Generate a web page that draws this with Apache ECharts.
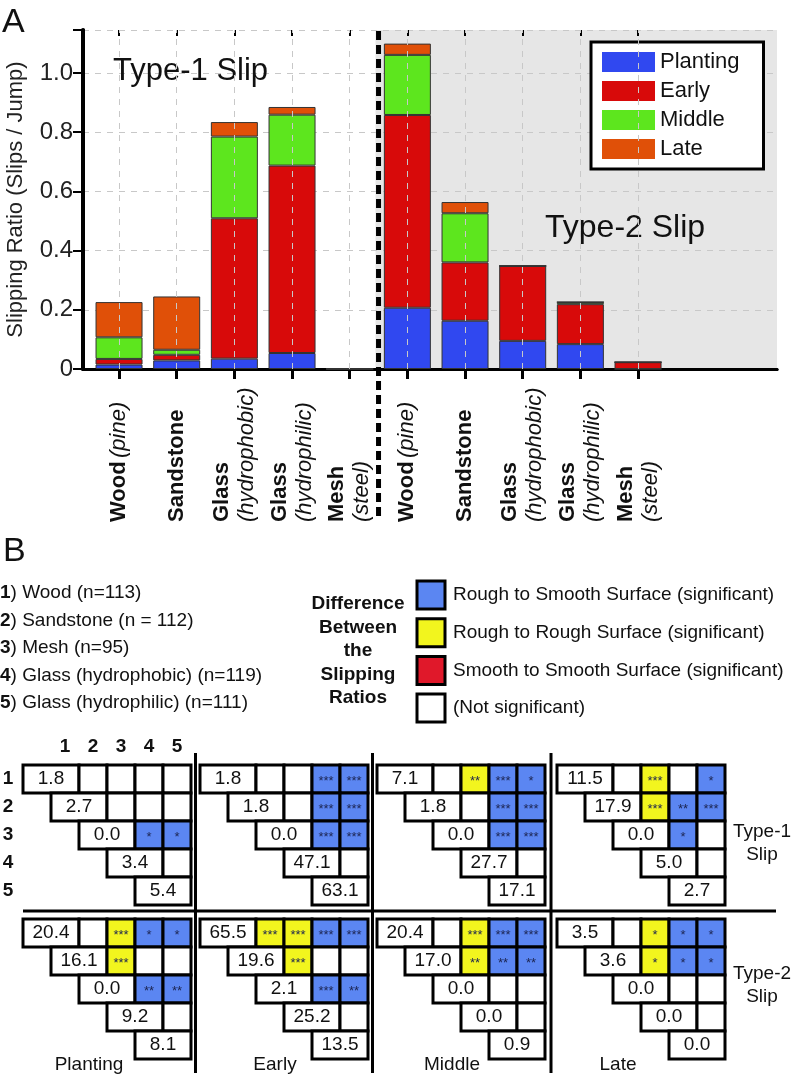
<!DOCTYPE html>
<html>
<head>
<meta charset="utf-8">
<script src="https://cdn.jsdelivr.net/npm/echarts@6/dist/echarts.min.js"></script>
<style>
  html, body { margin: 0; padding: 0; background: #fff; }
  #chart { width: 793px; height: 1079px; }
</style>
</head>
<body>
<div id="chart"></div>
<script>
const FONT = '"Liberation Sans", Arial, Helvetica, sans-serif';

// ---- Panel A: slipping ratio per surface (Type-1 slips, then Type-2 slips)
const surfaces = ['Wood (pine)', 'Sandstone', 'Glass\n(hydrophobic)', 'Glass\n(hydrophilic)', 'Mesh\n(steel)'];
const categories = surfaces.concat(surfaces);
const stageNames = ['Planting', 'Early', 'Middle', 'Late'];
const stageColors = ['#3048f0', '#d80a0a', '#5de61e', '#e05008'];
const planting = [0.015, 0.029, 0.035, 0.054, 0, 0.207, 0.163, 0.095, 0.084, 0];
const early = [0.019, 0.019, 0.474, 0.633, 0, 0.651, 0.197, 0.253, 0.135, 0.023];
const middle = [0.073, 0.017, 0.276, 0.172, 0, 0.203, 0.166, 0, 0.007, 0];
const late = [0.119, 0.180, 0.049, 0.026, 0.002, 0.038, 0.038, 0, 0, 0];
const yMax = 1.145;

// ---- Panel B: pairwise comparisons
const sampleNames = ['Wood (n=113)', 'Sandstone (n = 112)', 'Mesh (n=95)', 'Glass (hydrophobic) (n=119)', 'Glass (hydrophilic) (n=111)'];
const sigLabels = ['Rough to Smooth Surface (significant)', 'Rough to Rough Surface (significant)', 'Smooth to Smooth Surface (significant)', '(Not significant)'];
const sigColors = ['#5b86f2', '#f2f51e', '#e0182a', '#ffffff'];
const type1Diag = [
  [1.8, 2.7, 0.0, 3.4, 5.4],
  [1.8, 1.8, 0.0, 47.1, 63.1],
  [7.1, 1.8, 0.0, 27.7, 17.1],
  [11.5, 17.9, 0.0, 5.0, 2.7]
];
const type2Diag = [
  [20.4, 16.1, 0.0, 9.2, 8.1],
  [65.5, 19.6, 2.1, 25.2, 13.5],
  [20.4, 17.0, 0.0, 0.0, 0.9],
  [3.5, 3.6, 0.0, 0.0, 0.0]
];
// [sample a, sample b, class (0 rough-smooth, 1 rough-rough), stars]
const type1Sig = [
  [[3, 4, 0, '*'], [3, 5, 0, '*']],
  [[1, 4, 0, '***'], [1, 5, 0, '***'], [2, 4, 0, '***'], [2, 5, 0, '***'], [3, 4, 0, '***'], [3, 5, 0, '***']],
  [[1, 3, 1, '**'], [1, 4, 0, '***'], [1, 5, 0, '*'], [2, 4, 0, '***'], [2, 5, 0, '***'], [3, 4, 0, '***'], [3, 5, 0, '***']],
  [[1, 3, 1, '***'], [1, 5, 0, '*'], [2, 3, 1, '***'], [2, 4, 0, '**'], [2, 5, 0, '***'], [3, 4, 0, '*']]
];
const type2Sig = [
  [[1, 3, 1, '***'], [1, 4, 0, '*'], [1, 5, 0, '*'], [2, 3, 1, '***'], [3, 4, 0, '**'], [3, 5, 0, '**']],
  [[1, 2, 1, '***'], [1, 3, 1, '***'], [1, 4, 0, '***'], [1, 5, 0, '***'], [2, 3, 1, '***'], [3, 4, 0, '***'], [3, 5, 0, '**']],
  [[1, 3, 1, '***'], [1, 4, 0, '***'], [1, 5, 0, '***'], [2, 3, 1, '**'], [2, 4, 0, '**'], [2, 5, 0, '**']],
  [[1, 3, 1, '*'], [1, 4, 0, '*'], [1, 5, 0, '*'], [2, 3, 1, '*'], [2, 4, 0, '*'], [2, 5, 0, '*']]
];

const matrixLefts = [23, 200, 377, 557];
const matrixTops = [765, 919];

const matrixCells = (diag, sig) => {
  const cells = [];
  for (let i = 0; i < 5; i++) {
    cells.push({ col: i, row: i, span: 2, text: diag[i].toFixed(1), fill: '#fff', small: false });
    for (let j = i + 1; j < 5; j++) {
      const hit = sig.find(s => s[0] === i + 1 && s[1] === j + 1);
      cells.push({
        col: j + 1, row: i, span: 1,
        text: hit ? hit[3] : '',
        fill: hit ? sigColors[hit[2]] : '#fff',
        small: true
      });
    }
  }
  return cells;
};

const chart = echarts.init(document.getElementById('chart'));

const grids = [
  { left: 83, top: 30, width: 694, height: 339, outerBoundsMode: 'none' },   // frame
  { left: 90.2, top: 30, width: 692, height: 339, outerBoundsMode: 'none' }  // bars
];
const xAxes = [
  { type: 'value', gridIndex: 0, min: 0, max: 1, position: 'bottom',
    axisLine: { lineStyle: { color: '#000', width: 3 } }, axisTick: { show: false },
    axisLabel: { show: false }, splitLine: { show: false } },
  { type: 'value', gridIndex: 0, min: 0, max: 1, position: 'top',
    axisLine: { lineStyle: { color: '#000', width: 3 } }, axisTick: { show: false },
    axisLabel: { show: false }, splitLine: { show: false } },
  { type: 'category', gridIndex: 1, data: categories.concat(['', '']), position: 'bottom',
    axisLine: { show: false },
    axisTick: { show: true, alignWithLabel: true, length: 10, interval: (i, v) => v !== '',
      lineStyle: { color: '#000', width: 3 } },
    splitLine: { show: false },
    axisLabel: {
      interval: 0, rotate: 90, align: 'left', verticalAlign: 'middle', margin: 153,
      formatter: v => {
        if (!v) return '';
        const m = v.match(/^(\S+)([\s\n])?(.*)$/);
        if (!m[3]) return '{b|' + m[1] + '}';
        return '{b|' + m[1] + '}' + (m[2] === '\n' ? '\n' : ' ') + '{i|' + m[3] + '}';
      },
      rich: {
        b: { fontFamily: FONT, fontWeight: 'bold', fontSize: 22, color: '#111', lineHeight: 25 },
        i: { fontFamily: FONT, fontStyle: 'italic', fontSize: 22, color: '#111', lineHeight: 25 }
      }
    } },
  { type: 'category', gridIndex: 1, data: categories.concat(['', '']), position: 'top',
    axisLine: { show: false },
    axisTick: { show: true, inside: true, alignWithLabel: true, length: 6, interval: (i, v) => v !== '',
      lineStyle: { color: '#000', width: 2 } },
    axisLabel: { show: false }, splitLine: { show: false } }
];
const yAxes = [
  { type: 'value', gridIndex: 0, min: 0, max: yMax, interval: 0.2, position: 'left',
    name: 'Slipping Ratio (Slips / Jump)', nameLocation: 'middle', nameGap: 56,
    nameTextStyle: { fontFamily: FONT, fontSize: 22, color: '#222' },
    axisLine: { show: true, lineStyle: { color: '#000', width: 4 } }, axisTick: { show: false },
    axisLabel: { fontFamily: FONT, fontSize: 24, color: '#222', margin: 10, showMaxLabel: false,
      formatter: v => (v === 0 ? '0' : v.toFixed(1)) },
    splitLine: { show: true, lineStyle: { color: '#c8c8c8', width: 1, type: [6, 6] } } },
  { type: 'value', gridIndex: 0, min: 0, max: yMax, interval: 0.2, position: 'right',
    axisLine: { show: true, lineStyle: { color: '#000', width: 3 } },
    axisTick: { show: true, inside: true, length: 10, lineStyle: { color: '#000', width: 2 } },
    axisLabel: { show: false }, splitLine: { show: false } },
  { type: 'value', gridIndex: 1, min: 0, max: yMax, show: false }
];

const stageData = [planting, early, middle, late];
const series = stageNames.map((name, k) => ({
  name: name, type: 'bar', stack: 'slip', xAxisIndex: 2, yAxisIndex: 2,
  barWidth: 47, z: 3,
  itemStyle: { color: stageColors[k], borderColor: '#333', borderWidth: 1 },
  data: stageData[k]
}));

// vertical dashed grid lines at each surface, drawn under the bars
series.push({
  type: 'line', xAxisIndex: 2, yAxisIndex: 2, data: [], z: 1, silent: true,
  markLine: {
    silent: true, symbol: 'none', label: { show: false },
    lineStyle: { color: '#c8c8c8', width: 1, type: [6, 6] },
    data: categories.map((c, i) => ({ xAxis: i }))
  }
});

// matrices of panel B
const matrixList = [];
[type1Diag, type2Diag].forEach((diagSet, r) => {
  const sigSet = r === 0 ? type1Sig : type2Sig;
  diagSet.forEach((diag, c) => {
    const g = grids.length;
    grids.push({ left: matrixLefts[c], top: matrixTops[r], width: 168, height: 140, outerBoundsMode: 'none' });
    xAxes.push({ type: 'value', gridIndex: g, min: 0, max: 6, show: false });
    yAxes.push({ type: 'value', gridIndex: g, min: 0, max: 5, inverse: true, show: false });
    const cells = matrixCells(diag, sigSet[c]);
    matrixList.push(g);
    series.push({
      type: 'custom', xAxisIndex: xAxes.length - 1, yAxisIndex: yAxes.length - 1,
      clip: false, silent: true,
      data: cells.map(cell => [cell.col, cell.row, cell.span]),
      renderItem: (params, api) => {
        const cell = cells[params.dataIndex];
        const p0 = api.coord([api.value(0), api.value(1)]);
        const p1 = api.coord([api.value(0) + api.value(2), api.value(1) + 1]);
        return {
          type: 'group',
          children: [
            { type: 'rect', shape: { x: p0[0], y: p0[1], width: p1[0] - p0[0], height: p1[1] - p0[1] },
              style: { fill: cell.fill, stroke: '#000', lineWidth: 3 } },
            { type: 'text', style: {
                text: cell.text, x: (p0[0] + p1[0]) / 2, y: (p0[1] + p1[1]) / 2 + (cell.small ? 2 : 0),
                align: 'center', verticalAlign: 'middle',
                font: (cell.small ? '13px ' : '19px ') + FONT,
                fill: cell.small ? '#1c2450' : '#111' } }
          ]
        };
      }
    });
  });
});

chart.setOption({
  animation: false,
  backgroundColor: '#fff',
  textStyle: { fontFamily: FONT },
  grid: grids,
  xAxis: xAxes,
  yAxis: yAxes,
  legend: {
    data: stageNames, left: 591, top: 42, orient: 'vertical', selectedMode: false,
    icon: 'rect', itemWidth: 53, itemHeight: 20, itemGap: 7,
    padding: [9, 24, 9, 11], backgroundColor: '#fff', borderColor: '#000', borderWidth: 3,
    itemStyle: { borderWidth: 0 },
    textStyle: { fontFamily: FONT, fontSize: 22, color: '#111' }
  },
  series: series
});

// ---- annotations positioned through the axes
const px = (i) => chart.convertToPixel({ xAxisIndex: 2 }, i);
const split = (px(4) + px(5)) / 2;
const gfx = [];
const text = (x, y, str, font, extra) => gfx.push(Object.assign({
  type: 'text', x: x, y: y, silent: true,
  style: Object.assign({ text: str, font: font, fill: '#111', align: 'left', verticalAlign: 'middle' }, extra || {})
}));

gfx.push({ type: 'rect', z: -1, silent: true,
  shape: { x: split - 3, y: 30, width: 777 - (split - 3), height: 339 },
  style: { fill: '#e6e6e6' } });
gfx.push({ type: 'line', z: 50, silent: true,
  shape: { x1: split, y1: 31, x2: split, y2: 520 },
  style: { stroke: '#000', lineWidth: 5, lineDash: [9, 5] } });

text(2, 23, 'A', '34px ' + FONT);
text(113, 71, 'Type-1 Slip', '31px ' + FONT);
text(545, 228, 'Type-2 Slip', '32px ' + FONT);
text(3, 552, 'B', '34px ' + FONT);

// sample list
sampleNames.forEach((s, i) => {
  gfx.push({ type: 'text', x: 0, y: 593 + i * 27.5, silent: true,
    style: { text: '{n|' + (i + 1) + '}) ' + s, verticalAlign: 'middle',
      font: '19px ' + FONT, fill: '#111',
      rich: { n: { fontFamily: FONT, fontSize: 19, fontWeight: 'bold', fill: '#111' } } } });
});

// significance legend
text(358, 651, 'Difference\nBetween\nthe\nSlipping\nRatios', 'bold 19px ' + FONT,
  { align: 'center', lineHeight: 23.5 });
sigLabels.forEach((s, i) => {
  const y = 595 + i * 37.7;
  gfx.push({ type: 'rect', silent: true, shape: { x: 417, y: y - 14, width: 28, height: 28 },
    style: { fill: sigColors[i], stroke: '#000', lineWidth: 3 } });
  text(453, y, s, '19px ' + FONT);
});

// matrix headers and row labels
const firstGrid = matrixList[0];
for (let j = 0; j < 5; j++) {
  const p = chart.convertToPixel({ gridIndex: firstGrid }, [j + 1.5, 0]);
  text(p[0], 747, String(j + 1), 'bold 19px ' + FONT, { align: 'center' });
  const q = chart.convertToPixel({ gridIndex: firstGrid }, [0, j + 0.5]);
  text(8, q[1], String(j + 1), 'bold 19px ' + FONT, { align: 'center' });
}
const stageLabelX = [89, 275, 452, 618];
stageNames.forEach((s, i) => text(stageLabelX[i], 1065, s, '19px ' + FONT, { align: 'center' }));
text(762, 843, 'Type-1\nSlip', '19px ' + FONT, { align: 'center', lineHeight: 23 });
text(762, 985, 'Type-2\nSlip', '19px ' + FONT, { align: 'center', lineHeight: 23 });

// separators
[195.5, 372.5, 551].forEach(x => gfx.push({ type: 'line', silent: true,
  shape: { x1: x, y1: 753, x2: x, y2: 1073 }, style: { stroke: '#000', lineWidth: 3 } }));
gfx.push({ type: 'line', silent: true, shape: { x1: 23, y1: 911, x2: 776, y2: 911 },
  style: { stroke: '#000', lineWidth: 3 } });

chart.setOption({ graphic: { elements: gfx } });
</script>
</body>
</html>
